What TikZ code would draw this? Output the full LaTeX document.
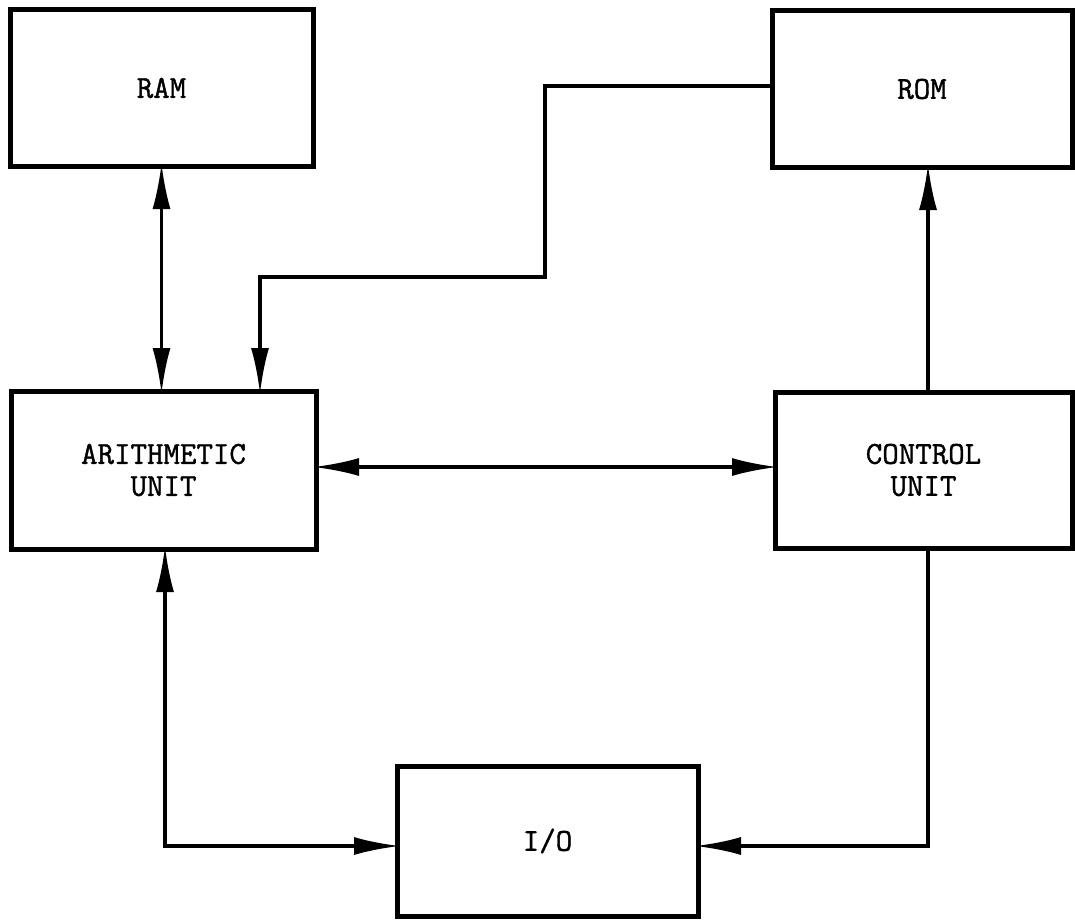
\documentclass[tikz,border=0pt]{standalone}
\usepackage{fontspec}
\newfontfamily\typew[FakeBold=1.2]{Latin Modern Mono}
\usetikzlibrary{arrows.meta}
\begin{document}
\begin{tikzpicture}[x=1pt,y=-1pt,
  blk/.style={draw=black,line width=5pt,fill=white,inner sep=0pt,outer sep=0pt,
    font=\fontsize{32}{32}\selectfont\typew,align=center},
  conn/.style={line width=3.5pt,line join=miter},
  tipend/.style={conn,-{Latex[length=46pt,width=18pt]},shorten >=-3pt},
  tipboth/.style={conn,{Latex[length=46pt,width=18pt]}-{Latex[length=46pt,width=18pt]},shorten >=-3pt,shorten <=-3pt}]
\useasboundingbox (0,0) rectangle (1075,923);
\node[blk,minimum width=303pt,minimum height=156pt] (ram) at (161.5,88) {RAM};
\node[blk,minimum width=300pt,minimum height=156pt] (rom) at (922,89) {ROM};
\node[blk,minimum width=305pt,minimum height=158pt] (au) at (163.5,470) {ARITHMETIC\\UNIT};
\node[blk,minimum width=297pt,minimum height=156pt] (cu) at (923.5,470) {CONTROL\\UNIT};
\node[blk,minimum width=301pt,minimum height=150pt] (io) at (547.5,841) {I/O};
\coordinate (k1) at (545,86);
\coordinate (k2) at (545,277);
\coordinate (k3) at (260,277);
\coordinate (h) at (0,467);
\coordinate (b1) at (165,846);
\coordinate (b2) at (928,846);
\draw[tipboth] (ram.south) -- (ram.south |- au.north);
\draw[tipend] (rom.west |- k1) -- (k1) -- (k2) -- (k3) -- (k3 |- au.north);
\draw[tipend] (cu.north -| b2) -- (rom.south -| b2);
\draw[tipboth] (au.east |- h) -- (cu.west |- h);
\draw[tipboth] (au.south -| b1) -- (b1) -- (b1 -| io.west);
\draw[tipend] (cu.south -| b2) -- (b2) -- (b2 -| io.east);
\end{tikzpicture}
\end{document}
